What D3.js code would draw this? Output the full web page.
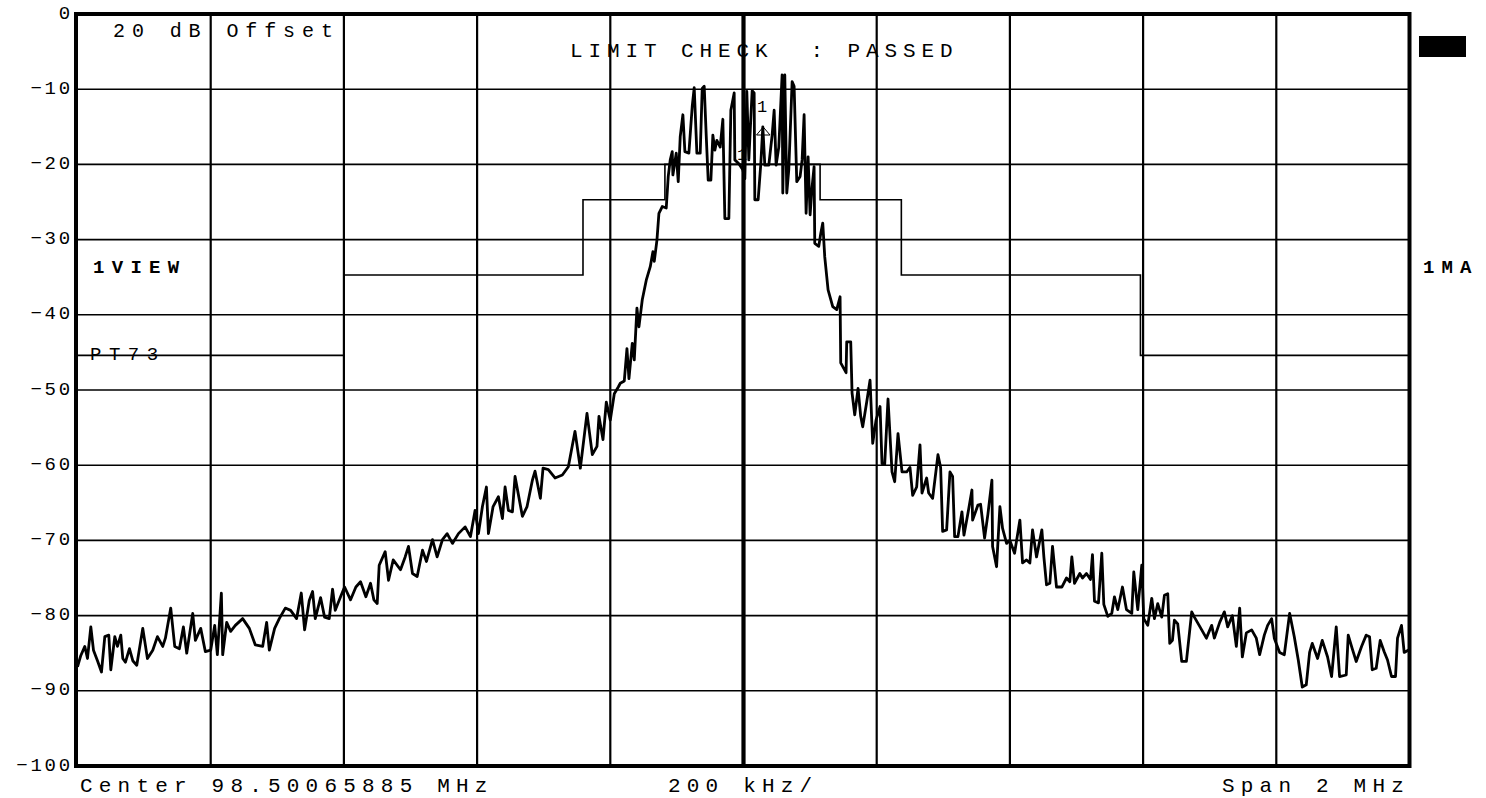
<!DOCTYPE html>
<html><head><meta charset="utf-8">
<script src="https://cdn.jsdelivr.net/npm/d3@7"></script>
<style>html,body{margin:0;padding:0;background:#fff;}svg{display:block;}</style>
</head><body>
<svg id="chart" width="1486" height="798"></svg>
<script>
// ---- data ----
// trace: frequency offset from centre (kHz) and level (dB)
const freqKHz = [-1000,-995,-989,-985,-980,-976,-970,-964,-959,-953,-950,-944,-940,-935,-932,-928,-922,-917,-911,-902,-895,-887,-880,-872,-868,-860,-854,-847,-841,-836,-827,-823,-815,-808,-800,-794,-790,-784,-782,-776,-770,-763,-752,-742,-733,-722,-716,-712,-704,-697,-688,-680,-671,-664,-659,-652,-647,-643,-635,-629,-622,-617,-613,-605,-599,-590,-582,-575,-567,-560,-555,-550,-547,-538,-533,-526,-515,-508,-503,-497,-490,-482,-476,-467,-460,-452,-445,-437,-428,-418,-410,-403,-398,-392,-386,-383,-376,-368,-362,-358,-353,-347,-343,-332,-325,-317,-313,-305,-301,-293,-283,-272,-263,-253,-245,-235,-227,-220,-217,-211,-206,-200,-194,-188,-185,-179,-175,-172,-167,-164,-160,-157,-152,-146,-140,-136,-134,-130,-127,-122,-116,-113,-110,-107,-106,-101,-98,-95,-91,-88,-82,-77,-74,-70,-65,-62,-59,-56,-53,-49,-46,-43,-40,-35,-31,-28,-22,-19,-14,-13,-7,-1,2,5,8,13,16,17,22,26,29,32,38,43,46,49,53,58,59,62,65,68,73,76,80,85,88,91,94,97,100,103,106,107,113,116,119,122,127,134,140,145,146,154,155,161,163,167,172,176,179,185,190,194,199,205,208,212,217,223,227,232,238,245,250,254,260,265,268,275,278,284,292,296,299,305,310,314,317,322,328,331,337,343,344,352,356,362,367,373,374,380,385,389,395,400,407,415,419,425,430,434,440,448,451,455,460,464,470,478,485,490,493,497,505,509,515,521,524,527,533,538,541,547,553,557,562,569,575,583,586,592,598,601,607,613,617,622,628,632,637,640,644,647,652,658,665,673,677,688,695,703,707,715,722,727,734,740,745,749,755,763,770,775,782,787,793,797,805,812,820,827,833,839,845,850,854,862,869,877,883,890,895,905,908,914,920,928,935,940,944,950,956,962,967,973,979,982,988,992,1000];
const levelDb = [-86.8,-85.3,-84.1,-85.7,-81.5,-84.6,-86.0,-87.5,-82.8,-82.6,-87.2,-82.8,-84.1,-82.6,-85.7,-86.2,-84.4,-86.0,-86.6,-81.7,-85.7,-84.6,-82.8,-84.1,-83.0,-79.0,-84.1,-84.4,-81.5,-85.0,-79.7,-83.3,-81.7,-84.8,-84.6,-81.3,-85.2,-77.0,-85.2,-80.9,-82.1,-81.3,-80.4,-81.7,-83.9,-84.1,-80.9,-84.6,-81.7,-80.4,-79.0,-79.3,-80.4,-77.0,-81.9,-78.0,-76.8,-80.4,-77.6,-80.2,-80.4,-76.5,-79.3,-77.5,-76.2,-77.9,-76.2,-75.5,-77.5,-75.7,-77.9,-78.4,-73.3,-71.5,-75.3,-72.6,-73.9,-72.2,-70.8,-74.4,-74.8,-71.3,-72.8,-69.9,-72.2,-69.9,-69.1,-70.4,-69.1,-68.2,-69.5,-66.0,-69.1,-65.5,-62.9,-69.1,-65.5,-64.2,-67.1,-62.9,-66.0,-66.2,-61.5,-66.8,-65.5,-62.0,-60.8,-64.4,-60.4,-60.6,-61.7,-61.3,-60.2,-55.5,-60.4,-53.1,-58.6,-57.5,-53.5,-56.6,-51.6,-54.0,-50.5,-49.6,-49.1,-48.8,-44.5,-48.5,-43.8,-46.0,-39.1,-41.6,-38.0,-35.4,-33.6,-31.6,-32.9,-30.1,-26.5,-25.6,-25.8,-21.6,-19.4,-18.3,-21.4,-18.5,-22.3,-16.3,-13.4,-18.3,-18.5,-12.3,-9.8,-18.5,-18.5,-9.9,-9.6,-16.1,-22.1,-22.1,-16.1,-18.1,-16.8,-17.7,-14.0,-27.2,-27.2,-12.8,-10.5,-19.4,-19.9,-20.7,-21.9,-10.3,-19.4,-10.2,-10.5,-24.7,-24.7,-19.9,-15.0,-20.1,-20.1,-16.1,-12.8,-20.1,-17.7,-8.1,-23.8,-8.1,-23.8,-20.7,-9.0,-9.6,-22.3,-21.6,-19.4,-13.4,-26.5,-19.0,-26.7,-23.0,-20.3,-30.5,-30.9,-29.2,-27.8,-32.3,-36.7,-38.9,-39.3,-37.6,-46.4,-47.7,-43.6,-43.6,-50.4,-53.3,-49.8,-53.5,-54.9,-51.6,-48.7,-57.1,-54.0,-52.2,-59.8,-59.9,-51.2,-60.9,-62.2,-55.8,-60.9,-60.9,-60.3,-64.0,-62.9,-57.3,-63.7,-61.7,-63.7,-64.4,-58.6,-60.3,-68.8,-68.6,-60.9,-61.5,-69.5,-69.5,-66.2,-69.3,-66.4,-63.3,-67.3,-65.3,-65.2,-69.7,-66.5,-62.0,-70.8,-73.5,-65.5,-68.4,-70.4,-70.0,-71.7,-67.3,-73.0,-72.6,-73.0,-68.6,-72.2,-68.6,-72.2,-75.9,-75.7,-70.8,-76.2,-76.2,-75.0,-75.5,-72.2,-75.7,-74.4,-75.0,-74.4,-75.2,-71.9,-78.1,-78.3,-71.7,-78.5,-80.1,-79.7,-77.5,-79.2,-76.2,-79.2,-79.7,-74.2,-79.2,-73.3,-80.4,-81.3,-77.7,-80.4,-78.4,-80.2,-77.3,-77.1,-83.7,-83.3,-80.6,-81.1,-86.1,-86.1,-79.5,-80.2,-81.9,-83.0,-81.3,-83.0,-80.9,-79.5,-81.5,-80.0,-84.1,-79.0,-85.5,-82.3,-81.9,-83.0,-85.2,-82.6,-81.3,-80.4,-83.0,-84.9,-85.2,-79.7,-82.8,-85.9,-89.5,-89.2,-84.9,-83.7,-85.7,-83.3,-85.5,-88.1,-81.5,-88.1,-87.9,-82.6,-84.4,-86.1,-84.1,-82.6,-82.8,-87.2,-87.0,-83.3,-84.8,-85.9,-88.1,-88.1,-83.0,-81.3,-84.9,-84.5];
// limit line (step after each breakpoint)
const limitKHz = [-1000,-600,-241,-118,115,237,596,1000];
const limitDb  = [-45.4,-34.7,-24.7,-20,-24.7,-34.7,-45.4,-45.4];
// axes
const yTicks = [0,-10,-20,-30,-40,-50,-60,-70,-80,-90,-100];
const xGrid = [-800,-600,-400,-200,0,200,400,600,800];
// annotation texts
const txtOffset = "20 dB Offset";
const txtLimit = "LIMIT CHECK  : PASSED";
const txtCenter = "Center 98.50065885 MHz";
const txtDiv = "200 kHz/";
const txtSpan = "Span 2 MHz";
const txtView = "1VIEW";
const txtPT = "PT73";
const txtMA = "1MA";

// ---- drawing ----
const svg = d3.select("#chart");
const x = d3.scaleLinear().domain([-1000,1000]).range([77.5,1409.5]);
const y = d3.scaleLinear().domain([-100,0]).range([766,14]);
const FONT = "'Liberation Mono','DejaVu Sans Mono',monospace";

// horizontal grid
svg.append("g").selectAll("line").data(yTicks.filter(d=>d>-100 && d<0)).join("line")
  .attr("x1",x(-1000)).attr("x2",x(1000))
  .attr("y1",d=>y(d)).attr("y2",d=>y(d))
  .attr("stroke","#000").attr("stroke-width",1.6);
// vertical grid
svg.append("g").selectAll("line").data(xGrid).join("line")
  .attr("x1",d=>x(d)).attr("x2",d=>x(d))
  .attr("y1",y(0)).attr("y2",y(-100))
  .attr("stroke","#000").attr("stroke-width",d=>d===0?4.2:2.2);

// marker annotations
svg.append("text").attr("x",757).attr("y",112).attr("font-family",FONT).attr("font-size",17).text("1");
svg.append("path").attr("d","M756.5,135 L770,135 L763.2,127 Z").attr("fill","none").attr("stroke","#000").attr("stroke-width",1);
svg.append("text").attr("x",737).attr("y",160).attr("font-family",FONT).attr("font-size",17).text("1");

// limit line
svg.append("path")
  .datum(limitKHz.map((f,i)=>[f,limitDb[i]]))
  .attr("d",d3.line().x(d=>x(d[0])).y(d=>y(d[1])).curve(d3.curveStepAfter))
  .attr("fill","none").attr("stroke","#000").attr("stroke-width",1.6);

// trace
svg.append("path")
  .datum(freqKHz.map((f,i)=>[f,levelDb[i]]))
  .attr("d",d3.line().x(d=>x(d[0])).y(d=>y(d[1])))
  .attr("fill","none").attr("stroke","#000").attr("stroke-width",2.8)
  .attr("stroke-linejoin","round");

// border
svg.append("rect").attr("x",x(-1000)-1.5).attr("y",y(0)).attr("width",x(1000)-x(-1000)+1.5).attr("height",y(-100)-y(0))
  .attr("fill","none").attr("stroke","#000").attr("stroke-width",4);

// y axis labels
const yAxis = d3.axisLeft(y).tickValues(yTicks).tickSize(0).tickPadding(0);
const ga = svg.append("g").attr("transform","translate(73,0)").call(yAxis);
ga.select(".domain").remove();
ga.selectAll("text").attr("font-family",FONT).attr("font-size",19).attr("fill","#000")
  .attr("dy",null).attr("y",4).attr("x",0).attr("letter-spacing",2.8).attr("text-anchor","end");

function label(t,x0,y0,size,adv,bold){
  svg.append("text").attr("x",x0).attr("y",y0)
    .attr("font-family",FONT).attr("font-size",size)
    .attr("font-weight",bold?"bold":"normal")
    .attr("letter-spacing",adv-size*0.6)
    .style("white-space","pre").attr("fill","#000").text(t);
}
label(txtOffset,113,37,20,18.9,false);
label(txtLimit,570,57,21,18.5,false);
label(txtCenter,80,792,21,18.8,false);
label(txtDiv,668,792,21,18.8,false);
label(txtSpan,1222,792,21,18.8,false);
label(txtView,93,273,19,18.7,true);
label(txtPT,90,360,19,18.9,false);
label(txtMA,1423,273,19,18.5,true);

// status block
svg.append("rect").attr("x",1419).attr("y",36).attr("width",47).attr("height",21).attr("fill","#000");
</script>
</body></html>
